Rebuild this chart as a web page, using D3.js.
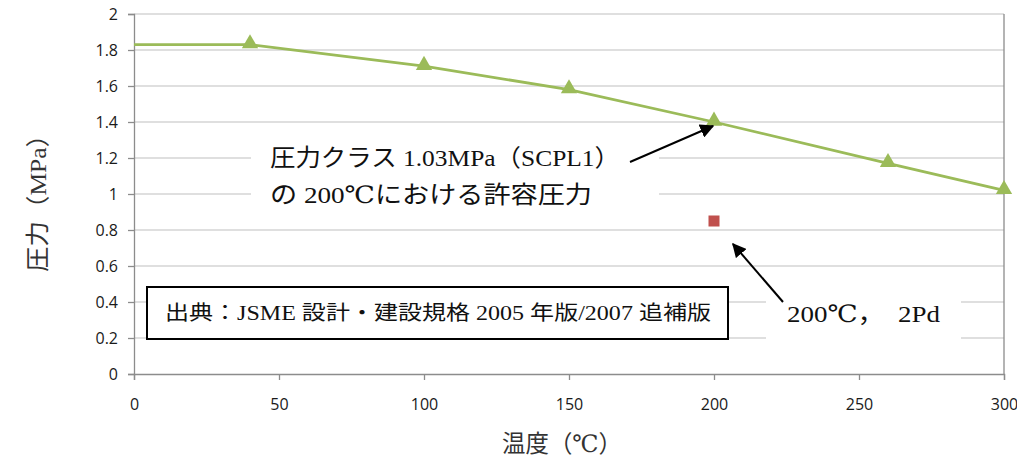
<!DOCTYPE html>
<html>
<head>
<meta charset="utf-8">
<script src="https://cdn.jsdelivr.net/npm/d3@7"></script>
<style>
body { margin: 0; background: #fff; }
</style>
</head>
<body>
<div id="chart-area"></div>
<script>
var width = 1017;
var height = 464;

// allowable pressure curve (SCPL1, class 1.03 MPa)
var temps = [0, 40, 100, 150, 200, 260, 300];
var pressures = [1.83, 1.83, 1.71, 1.58, 1.40, 1.17, 1.02];
var markerFrom = 1; // no marker at 0

// 2Pd point
var pdTemp = [200];
var pdPressure = [0.85];

var xTicks = [0, 50, 100, 150, 200, 250, 300];
var yTicks = [0, 0.2, 0.4, 0.6, 0.8, 1, 1.2, 1.4, 1.6, 1.8, 2];

var serif = "'Liberation Serif', 'DejaVu Serif', 'Noto Sans CJK JP', serif";
var sans = "'Open Sans', 'Liberation Sans', sans-serif";

var svg = d3.select("#chart-area").append("svg")
    .attr("width", width)
    .attr("height", height);

var x = d3.scaleLinear().domain([0, 300]).range([134, 1004]);
var y = d3.scaleLinear().domain([0, 2]).range([374, 14]);

// gridlines
svg.selectAll(".grid")
    .data(yTicks.slice(1))
    .enter()
    .append("line")
    .attr("x1", x(0))
    .attr("x2", x(300))
    .attr("y1", function(d) { return y(d); })
    .attr("y2", function(d) { return y(d); })
    .attr("stroke", "#d4d4d4")
    .attr("stroke-width", 1.3);

// axes
var xAxis = d3.axisBottom(x).tickValues(xTicks).tickSize(6).tickPadding(19);
var yAxis = d3.axisLeft(y).tickValues(yTicks).tickSize(6).tickPadding(10)
    .tickFormat(function(d) { return d; });

var gx = svg.append("g").attr("transform", "translate(0," + y(0) + ")").call(xAxis);
var gy = svg.append("g").attr("transform", "translate(" + x(0) + ",0)").call(yAxis);

[gx, gy].forEach(function(g) {
    g.attr("font-size", 16).attr("font-family", sans);
    g.select(".domain").attr("stroke", "#8c8c8c").attr("stroke-width", 1.3);
    g.selectAll(".tick line").attr("stroke", "#8c8c8c").attr("stroke-width", 1.3);
    g.selectAll(".tick text").attr("fill", "#1a1a1a");
});

// right border
svg.append("line")
    .attr("x1", x(300)).attr("x2", x(300))
    .attr("y1", y(0)).attr("y2", y(2))
    .attr("stroke", "#8c8c8c")
    .attr("stroke-width", 1.3);

// green line
var pts = temps.map(function(t, i) { return [t, pressures[i]]; });
var line = d3.line()
    .x(function(d) { return x(d[0]); })
    .y(function(d) { return y(d[1]); });

svg.append("path")
    .datum(pts)
    .attr("d", line)
    .attr("fill", "none")
    .attr("stroke", "#9bbb59")
    .attr("stroke-width", 2.8);

var tri = d3.symbol().type(d3.symbolTriangle).size(115);
svg.selectAll(".marker")
    .data(pts.slice(markerFrom))
    .enter()
    .append("path")
    .attr("d", tri)
    .attr("transform", function(d) { return "translate(" + x(d[0]) + "," + (y(d[1]) - 1) + ")"; })
    .attr("fill", "#9bbb59");

// red square
svg.selectAll(".pd")
    .data(pdTemp)
    .enter()
    .append("rect")
    .attr("x", function(d) { return x(d) - 5.5; })
    .attr("y", function(d, i) { return y(pdPressure[i]) - 5.5; })
    .attr("width", 11)
    .attr("height", 11)
    .attr("fill", "#c0504d");

// annotation 1 (white background)
svg.append("rect")
    .attr("x", 251).attr("y", 140)
    .attr("width", 408).attr("height", 72)
    .attr("fill", "#fff");
svg.append("text")
    .attr("x", 270).attr("y", 166)
    .attr("textLength", 350).attr("lengthAdjust", "spacingAndGlyphs")
    .style("font-family", serif).style("font-size", "24px")
    .attr("fill", "#111")
    .text("圧力クラス 1.03MPa（SCPL1）");
svg.append("text")
    .attr("x", 270).attr("y", 203)
    .attr("textLength", 322).attr("lengthAdjust", "spacingAndGlyphs")
    .style("font-family", serif).style("font-size", "24px")
    .attr("fill", "#111")
    .text("の 200℃における許容圧力");

// annotation 2 (white background)
svg.append("rect")
    .attr("x", 766).attr("y", 290)
    .attr("width", 195).attr("height", 55)
    .attr("fill", "#fff");
svg.append("text")
    .attr("x", 787).attr("y", 322)
    .attr("textLength", 153).attr("lengthAdjust", "spacingAndGlyphs")
    .style("font-family", serif).style("font-size", "24px")
    .attr("fill", "#111")
    .text("200℃，　2Pd");

// source box
svg.append("rect")
    .attr("x", 147).attr("y", 287)
    .attr("width", 581).attr("height", 52)
    .attr("fill", "#fff")
    .attr("stroke", "#000")
    .attr("stroke-width", 2);
svg.append("text")
    .attr("x", 165).attr("y", 320)
    .attr("textLength", 546).attr("lengthAdjust", "spacingAndGlyphs")
    .style("font-family", serif).style("font-size", "20px")
    .attr("fill", "#111")
    .text("出典：JSME 設計・建設規格 2005 年版/2007 追補版");

// arrows
svg.append("defs").append("marker")
    .attr("id", "arrow")
    .attr("viewBox", "0 0 10 10")
    .attr("refX", 9).attr("refY", 5)
    .attr("markerWidth", 7).attr("markerHeight", 7)
    .attr("markerUnits", "strokeWidth")
    .attr("orient", "auto")
    .append("path")
    .attr("d", "M0,0 L10,5 L0,10 Z")
    .attr("fill", "#000");

svg.append("line")
    .attr("x1", 630).attr("y1", 162)
    .attr("x2", x(200) - 1).attr("y2", y(1.40) + 4)
    .attr("stroke", "#000").attr("stroke-width", 2)
    .attr("marker-end", "url(#arrow)");

svg.append("line")
    .attr("x1", 783).attr("y1", 302)
    .attr("x2", x(200) + 19).attr("y2", y(0.85) + 23)
    .attr("stroke", "#000").attr("stroke-width", 2)
    .attr("marker-end", "url(#arrow)");

// axis titles
svg.append("text")
    .attr("x", 562).attr("y", 452)
    .attr("text-anchor", "middle")
    .attr("textLength", 120).attr("lengthAdjust", "spacingAndGlyphs")
    .style("font-family", serif).style("font-size", "24px")
    .attr("fill", "#333")
    .text("温度（℃）");

svg.append("text")
    .attr("transform", "translate(46,197) rotate(-90)")
    .attr("text-anchor", "middle")
    .attr("textLength", 150).attr("lengthAdjust", "spacingAndGlyphs")
    .style("font-family", serif).style("font-size", "24px")
    .attr("fill", "#333")
    .text("圧力（MPa）");
</script>
</body>
</html>
